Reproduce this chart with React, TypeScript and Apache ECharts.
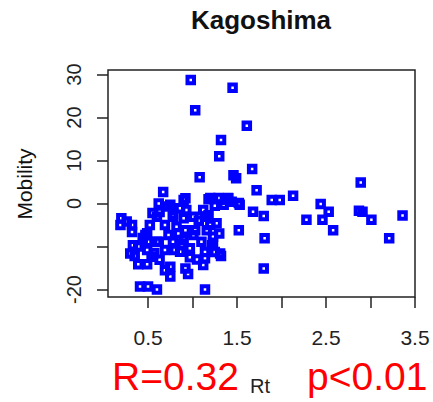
import React, { useEffect, useRef } from "react";
import * as echarts from "echarts";

const chartTitle = "Kagoshima";
const xName = "Rt";
const yName = "Mobility";
const xTickValues = [0.5, 1, 1.5, 2, 2.5, 3, 3.5];
const xLabelValues = [0.5, 1.5, 2.5, 3.5];
const yTickValues = [-20, -10, 0, 10, 20, 30];
const yLabelValues = [-20, 0, 10, 20, 30];

// Rt values
const rtValues = [
  0.98, 1.45, 1.03, 1.61, 1.32, 1.30, 1.08, 1.46, 1.49, 1.67, 1.72, 2.89,
  1.37, 1.52, 1.89, 1.98, 2.13, 2.44, 2.53, 1.68, 1.80, 2.28, 2.46, 2.58,
  2.91, 2.87, 3.01, 3.36, 3.21, 1.52, 1.81, 1.80, 1.14, 1.32, 1.14,
  1.20, 1.29, 1.40, 1.53,
  0.20, 0.19, 0.32, 0.32, 0.49, 0.50, 0.60, 0.35, 0.39, 0.49, 0.49, 0.69,
  0.75, 0.92, 0.95, 1.05, 0.41, 0.50, 0.60, 0.90, 0.62, 0.86, 1.03, 1.16,
  1.23, 1.23, 0.80, 0.69, 0.62, 0.69, 0.78, 1.01, 0.71, 0.92, 1.23, 1.40,
  1.35, 1.12, 1.01, 0.90, 0.78, 0.60, 0.52, 0.47, 0.33, 0.30, 0.39, 0.54,
  0.63, 0.75, 0.86, 0.97, 1.10, 1.31, 1.18, 1.27, 1.44, 0.93, 0.82, 0.73,
  0.92, 0.90, 1.14, 1.20, 1.22, 1.14, 1.25, 1.12, 0.67, 0.75, 0.63, 0.78,
  1.18, 1.25, 0.26, 0.44, 0.57, 0.84, 1.07, 0.97, 0.55, 0.88, 1.30,
];

// Mobility values
const mobilityValues = [
  28.7, 26.9, 21.7, 18.1, 14.8, 11.0, 6.1, 6.6, 5.9, 8.0, 3.1, 4.9,
  0.8, 0.1, 0.8, 0.8, 1.8, -0.1, -1.9, -1.9, -2.9, -3.8, -3.8, -6.2,
  -1.9, -1.7, -3.8, -2.8, -8.1, -6.2, -8.1, -15.1, -20.0, -12.2, -12.7,
  1.3, 1.3, 1.3, -0.3,
  -3.4, -5.0, -5.0, -6.6, -6.9, -8.9, -8.9, -12.2, -14.1, -14.1, -10.8, -15.5,
  -17.0, -15.1, -16.4, -13.0, -19.3, -19.3, -20.0, 0.8, 0.0, -1.1, -6.2, -6.2,
  -7.7, -9.1, -10.8, -10.8, -8.9, -5.0, -8.9, -7.3, -0.7, 1.2, 1.2, 1.2,
  -0.3, -1.5, -3.1, -3.4, -3.1, -3.1, -5.0, -7.3, -9.7, -11.6, -10.0, -12.4,
  -13.1, -14.7, -11.2, -10.4, -8.9, -11.6, -2.7, -4.6, 0.4, -1.5, -5.4, -7.3,
  -6.2, -8.5, -3.1, -5.0, -9.7, -11.3, -11.3, -14.3, 2.7, -0.3, -2.0, -2.5,
  1.0, -0.5, -4.2, -8.0, -11.5, -7.0, -4.0, -12.5, -2.2, -9.5, -7.0,
];

export default function App() {
  const ref = useRef<HTMLDivElement>(null);
  useEffect(() => {
    if (!ref.current) return;
    const chart = echarts.init(ref.current, null, { renderer: "svg" });
    const n = Math.min(rtValues.length, mobilityValues.length);
    const data: number[][] = [];
    for (let i = 0; i < n; i++) data.push([rtValues[i], mobilityValues[i]]);
    const font = "'Liberation Sans', Arial, sans-serif";
    chart.setOption({
      animation: false,
      backgroundColor: "#ffffff",
      grid: {
        left: 108,
        right: 18,
        top: 70,
        bottom: 105,
        show: true,
        borderColor: "#222",
        borderWidth: 1.5,
        backgroundColor: "transparent",
      },
      xAxis: {
        type: "value",
        min: 0.05,
        max: 3.5,
        splitLine: { show: false },
        axisLine: { show: false, onZero: false },
        axisTick: {
          show: true,
          customValues: xTickValues,
          length: 11,
          inside: false,
          lineStyle: { color: "#222", width: 1.5 },
        },
        axisLabel: {
          customValues: xLabelValues,
          formatter: (v: number) => String(v),
          margin: 30,
          fontSize: 21,
          color: "#222",
          fontFamily: font,
        },
      },
      yAxis: {
        type: "value",
        min: -21.74,
        max: 31.05,
        splitLine: { show: false },
        axisLine: { show: false, onZero: false },
        axisTick: {
          show: true,
          customValues: yTickValues,
          length: 11,
          inside: false,
          lineStyle: { color: "#222", width: 1.5 },
        },
        axisLabel: {
          customValues: yLabelValues,
          rotate: 90,
          margin: 24,
          fontSize: 20,
          color: "#222",
          fontFamily: font,
        },
      },
      series: [
        {
          type: "scatter",
          data,
          symbol: "rect",
          symbolSize: 6.5,
          itemStyle: {
            color: "rgba(255,255,255,0)",
            borderColor: "#0000ff",
            borderWidth: 4,
            opacity: 1,
          },
        },
      ],
      graphic: [
        {
          type: "text",
          x: 261,
          y: 20,
          style: {
            text: chartTitle,
            align: "center",
            verticalAlign: "middle",
            fontSize: 26,
            fontWeight: "bold",
            fontFamily: font,
            fill: "#111",
          },
        },
        {
          type: "text",
          x: 24,
          y: 184,
          rotation: Math.PI / 2,
          style: {
            text: yName,
            align: "center",
            verticalAlign: "middle",
            fontSize: 21,
            fontFamily: font,
            fill: "#111",
          },
        },
        {
          type: "text",
          x: 112,
          y: 376,
          style: {
            text: "R=0.32",
            align: "left",
            verticalAlign: "middle",
            fontSize: 39,
            fontFamily: font,
            fill: "#ff0000",
          },
        },
        {
          type: "text",
          x: 250,
          y: 386,
          style: {
            text: xName,
            align: "left",
            verticalAlign: "middle",
            fontSize: 20,
            fontFamily: font,
            fill: "#222",
          },
        },
        {
          type: "text",
          x: 307,
          y: 376,
          style: {
            text: "p<0.01",
            align: "left",
            verticalAlign: "middle",
            fontSize: 39,
            fontFamily: font,
            fill: "#ff0000",
          },
        },
      ],
    });
    return () => chart.dispose();
  }, []);
  return (
    <div
      ref={ref}
      style={{ position: "absolute", left: 0, top: 0, width: 433, height: 402, background: "#fff" }}
    />
  );
}
